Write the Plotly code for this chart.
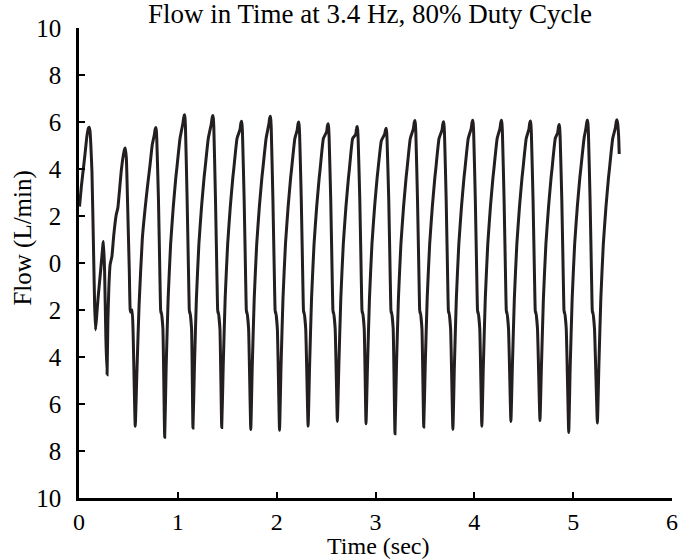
import plotly.graph_objects as go

# Time (s) and flow (L/min)
time_s = [
    0.005, 0.025, 0.043, 0.060, 0.080, 0.095, 0.103, 0.112, 0.120, 0.131, 0.148, 0.158, 0.167,
    0.178, 0.193, 0.218, 0.244, 0.248, 0.259, 0.272, 0.284,
    0.292, 0.302, 0.315, 0.333, 0.352, 0.377, 0.393, 0.409, 0.427, 0.449, 0.462, 0.467,
    0.479, 0.492, 0.509, 0.518, 0.525, 0.538, 0.548, 0.569,
    0.586, 0.608, 0.641, 0.666, 0.691, 0.719, 0.741, 0.762, 0.771, 0.777,
    0.782, 0.787, 0.804, 0.820, 0.826, 0.830, 0.833, 0.849, 0.867,
    0.882, 0.902, 0.927, 0.954, 0.980, 0.989, 1.022, 1.052, 1.061, 1.067,
    1.072, 1.077, 1.094, 1.110, 1.116, 1.120, 1.123, 1.139, 1.153,
    1.168, 1.188, 1.213, 1.240, 1.266, 1.275, 1.308, 1.339, 1.348, 1.354,
    1.359, 1.364, 1.381, 1.397, 1.403, 1.407, 1.410, 1.426, 1.444,
    1.459, 1.479, 1.504, 1.531, 1.557, 1.566, 1.599, 1.629, 1.638, 1.644,
    1.649, 1.654, 1.671, 1.687, 1.693, 1.697, 1.700, 1.716, 1.738,
    1.753, 1.773, 1.798, 1.825, 1.851, 1.860, 1.893, 1.920, 1.929, 1.935,
    1.940, 1.945, 1.962, 1.978, 1.984, 1.988, 1.991, 2.007, 2.029,
    2.044, 2.064, 2.089, 2.116, 2.142, 2.151, 2.184, 2.207, 2.216, 2.222,
    2.227, 2.232, 2.249, 2.265, 2.271, 2.275, 2.278, 2.294, 2.318,
    2.333, 2.353, 2.378, 2.405, 2.431, 2.440, 2.473, 2.505, 2.514, 2.520,
    2.525, 2.530, 2.547, 2.563, 2.569, 2.573, 2.576, 2.592, 2.614,
    2.629, 2.649, 2.674, 2.701, 2.727, 2.736, 2.769, 2.799, 2.808, 2.814,
    2.819, 2.824, 2.841, 2.857, 2.863, 2.867, 2.870, 2.886, 2.904,
    2.919, 2.939, 2.964, 2.991, 3.017, 3.026, 3.059, 3.092, 3.101, 3.107,
    3.112, 3.117, 3.134, 3.150, 3.156, 3.160, 3.163, 3.179, 3.197,
    3.212, 3.232, 3.257, 3.284, 3.310, 3.319, 3.352, 3.383, 3.392, 3.398,
    3.403, 3.408, 3.425, 3.441, 3.447, 3.451, 3.454, 3.470, 3.488,
    3.503, 3.523, 3.548, 3.575, 3.601, 3.610, 3.643, 3.673, 3.682, 3.688,
    3.693, 3.698, 3.715, 3.731, 3.737, 3.741, 3.744, 3.760, 3.783,
    3.798, 3.818, 3.843, 3.870, 3.896, 3.905, 3.938, 3.968, 3.977, 3.983,
    3.988, 3.993, 4.010, 4.026, 4.032, 4.036, 4.039, 4.055, 4.076,
    4.091, 4.111, 4.136, 4.163, 4.189, 4.198, 4.231, 4.259, 4.268, 4.274,
    4.279, 4.284, 4.301, 4.317, 4.323, 4.327, 4.330, 4.346, 4.370,
    4.385, 4.405, 4.430, 4.457, 4.483, 4.492, 4.525, 4.552, 4.561, 4.567,
    4.572, 4.577, 4.594, 4.610, 4.616, 4.620, 4.623, 4.639, 4.664,
    4.679, 4.699, 4.724, 4.751, 4.777, 4.786, 4.819, 4.843, 4.852, 4.858,
    4.863, 4.868, 4.885, 4.901, 4.907, 4.911, 4.914, 4.930, 4.955,
    4.970, 4.990, 5.015, 5.042, 5.068, 5.077, 5.110, 5.129, 5.138, 5.144,
    5.149, 5.154, 5.171, 5.187, 5.193, 5.197, 5.200, 5.216, 5.245,
    5.260, 5.280, 5.305, 5.332, 5.358, 5.367, 5.400, 5.427, 5.436, 5.442,
    5.450, 5.460, 5.466,
]

flow_lpm = [
    2.40, 3.30, 3.97, 4.60, 5.40, 5.74, 5.78, 5.60, 5.00, 3.90, 0.35, -1.77, -2.84,
    -2.30, -1.49, -0.36, 0.85, 0.92, -0.36, -3.20, -4.75,
    -2.50, -1.05, -0.07, 0.28, 1.20, 2.06, 2.34, 3.05, 3.90, 4.60, 4.85, 4.89,
    4.47, 2.48, -0.36, -1.99, -2.10, -2.00, -3.05, -6.95,
    -4.60, -1.77, 1.06, 2.20, 3.19, 4.18, 5.03, 5.45, 5.70, 5.77,
    5.65, 5.27, 2.70, -0.85, -2.00, -2.15, -2.05, -2.80, -7.42,
    -4.40, -1.50, 0.80, 2.40, 3.65, 4.00, 5.30, 5.96, 6.23, 6.31,
    6.19, 5.81, 2.70, -0.85, -2.00, -2.15, -2.05, -2.80, -7.02,
    -4.40, -1.50, 0.80, 2.40, 3.65, 4.00, 5.30, 5.93, 6.20, 6.28,
    6.16, 5.78, 2.70, -0.85, -2.00, -2.15, -2.05, -2.80, -7.00,
    -4.40, -1.50, 0.80, 2.40, 3.65, 4.00, 5.30, 5.68, 5.95, 6.03,
    5.91, 5.53, 2.70, -0.85, -2.00, -2.15, -2.05, -2.80, -7.09,
    -4.40, -1.50, 0.80, 2.40, 3.65, 4.00, 5.30, 5.89, 6.16, 6.24,
    6.12, 5.74, 2.70, -0.85, -2.00, -2.15, -2.05, -2.80, -7.12,
    -4.40, -1.50, 0.80, 2.40, 3.65, 4.00, 5.30, 5.65, 5.92, 6.00,
    5.88, 5.50, 2.70, -0.85, -2.00, -2.15, -2.05, -2.80, -6.95,
    -4.40, -1.50, 0.80, 2.40, 3.65, 4.00, 5.30, 5.58, 5.85, 5.93,
    5.81, 5.43, 2.70, -0.85, -2.00, -2.15, -2.05, -2.80, -6.74,
    -4.40, -1.50, 0.80, 2.40, 3.65, 4.00, 5.30, 5.46, 5.73, 5.81,
    5.69, 5.31, 2.70, -0.85, -2.00, -2.15, -2.05, -2.80, -6.84,
    -4.40, -1.50, 0.80, 2.40, 3.65, 4.00, 5.20, 5.48, 5.66, 5.73,
    5.61, 5.23, 2.70, -0.85, -2.00, -2.15, -2.05, -2.80, -7.27,
    -4.40, -1.50, 0.80, 2.40, 3.65, 4.00, 5.30, 5.71, 5.98, 6.06,
    5.94, 5.56, 2.70, -0.85, -2.00, -2.15, -2.05, -2.80, -6.98,
    -4.40, -1.50, 0.80, 2.40, 3.65, 4.00, 5.30, 5.66, 5.93, 6.01,
    5.89, 5.51, 2.70, -0.85, -2.00, -2.15, -2.05, -2.80, -7.08,
    -4.40, -1.50, 0.80, 2.40, 3.65, 4.00, 5.30, 5.72, 5.99, 6.07,
    5.95, 5.57, 2.70, -0.85, -2.00, -2.15, -2.05, -2.80, -6.95,
    -4.40, -1.50, 0.80, 2.40, 3.65, 4.00, 5.30, 5.72, 5.99, 6.07,
    5.95, 5.57, 2.70, -0.85, -2.00, -2.15, -2.05, -2.80, -6.74,
    -4.40, -1.50, 0.80, 2.40, 3.65, 4.00, 5.30, 5.69, 5.96, 6.04,
    5.92, 5.54, 2.70, -0.85, -2.00, -2.15, -2.05, -2.80, -6.71,
    -4.40, -1.50, 0.80, 2.40, 3.65, 4.00, 5.30, 5.54, 5.81, 5.89,
    5.77, 5.39, 2.70, -0.85, -2.00, -2.15, -2.05, -2.80, -7.21,
    -4.40, -1.50, 0.80, 2.40, 3.65, 4.00, 5.30, 5.73, 6.00, 6.08,
    5.96, 5.58, 2.70, -0.85, -2.00, -2.15, -2.05, -2.80, -6.81,
    -4.40, -1.50, 0.80, 2.40, 3.65, 4.00, 5.30, 5.75, 6.02, 6.10,
    5.95, 5.40, 4.64,
]

x_tick_vals = [0, 1, 2, 3, 4, 5, 6]
x_tick_text = ["0", "1", "2", "3", "4", "5", "6"]
y_tick_vals = [-10, -8, -6, -4, -2, 0, 2, 4, 6, 8, 10]
y_tick_text = ["10", "8", "6", "4", "2", "0", "2", "4", "6", "8", "10"]

title_text = "Flow in Time at 3.4 Hz, 80% Duty Cycle"
x_title = "Time (sec)"
y_title = "Flow (L/min)"

FONT = "Liberation Serif, Times New Roman, serif"

fig = go.Figure()
fig.add_trace(go.Scatter(
    x=time_s, y=flow_lpm, mode="lines",
    line=dict(color="#231f20", width=3, shape="spline", smoothing=0.4),
    hoverinfo="skip", showlegend=False,
))

fig.update_layout(
    width=683, height=560,
    margin=dict(l=79, r=5, t=28, b=62),
    paper_bgcolor="white", plot_bgcolor="white",
    font=dict(family=FONT, color="black", size=24),
    showlegend=False,
    title=dict(text=title_text, x=370 / 683, xanchor="center",
               y=1 - 14 / 560, yanchor="middle",
               font=dict(family=FONT, size=27, color="black")),
    annotations=[
        dict(text=x_title, xref="paper", yref="paper",
             x=(381 - 79) / 599, y=-(546 - 498) / 470,
             xanchor="center", yanchor="middle", showarrow=False,
             font=dict(family=FONT, size=24, color="black")),
        dict(text=y_title, xref="paper", yref="paper",
             x=-(79 - 22) / 599, y=(498 - 238) / 470, textangle=-90,
             xanchor="center", yanchor="middle", showarrow=False,
             font=dict(family=FONT, size=25, color="black")),
    ],
)

fig.update_xaxes(
    range=[0, 6], tickvals=x_tick_vals, ticktext=x_tick_text,
    showgrid=False, zeroline=False,
    showline=True, linecolor="black", linewidth=2.5,
    ticks="inside", ticklen=6, tickwidth=2, tickcolor="black",
    ticklabelstandoff=0, ticklabeloverflow="allow",
    tickfont=dict(family=FONT, size=24, color="black"),
)
fig.update_yaxes(
    range=[-10, 10], tickvals=y_tick_vals, ticktext=y_tick_text,
    showgrid=False, zeroline=False,
    showline=True, linecolor="black", linewidth=2.5,
    ticks="inside", ticklen=6, tickwidth=2, tickcolor="black",
    ticklabelstandoff=10, ticklabeloverflow="allow",
    tickfont=dict(family=FONT, size=25, color="black"),
)

fig.write_html("out.html")
